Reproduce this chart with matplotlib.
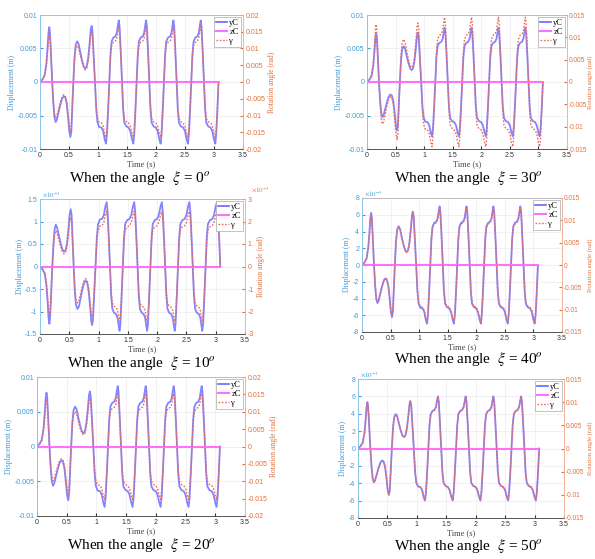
import numpy as np
import matplotlib
matplotlib.use("Agg")
import matplotlib.pyplot as plt
from matplotlib.ticker import FuncFormatter, MultipleLocator
from matplotlib.lines import Line2D

plt.rcParams["font.family"] = ["Liberation Sans", "DejaVu Sans"]
plt.rcParams["mathtext.fontset"] = "stix"

# Zeitpunkte (s) und normierte Kurvenform (stationaerer Spitzenwert = 1)
t_key = [0.000, 0.040, 0.080, 0.110, 0.130, 0.145, 0.160, 0.172, 0.185, 0.200,
         0.210, 0.230, 0.250, 0.270, 0.290, 0.320, 0.350, 0.380, 0.410, 0.435,
         0.460, 0.485, 0.505, 0.525, 0.540, 0.555, 0.575, 0.595, 0.615, 0.640,
         0.665, 0.695, 0.725, 0.755, 0.780, 0.805, 0.830, 0.855, 0.875, 0.890,
         0.905, 0.925, 0.948, 0.970, 0.990, 1.020, 1.060, 1.090, 1.115, 1.138,
         1.155, 1.175, 1.195, 1.215, 1.235, 1.265, 1.300, 1.325, 1.345, 1.358,
         1.372, 1.392, 1.414, 1.434, 1.454, 1.488, 1.528, 1.558, 1.586, 1.609,
         1.626, 1.646, 1.666, 1.686, 1.706, 1.736, 1.771, 1.796, 1.816, 1.829,
         1.843, 1.863, 1.885, 1.905, 1.925, 1.959, 1.999, 2.029, 2.057, 2.080,
         2.097, 2.117, 2.137, 2.157, 2.177, 2.207, 2.242, 2.267, 2.287, 2.300,
         2.314, 2.334, 2.356, 2.376, 2.396, 2.430, 2.470, 2.500, 2.528, 2.551,
         2.568, 2.588, 2.608, 2.628, 2.648, 2.678, 2.713, 2.738, 2.758, 2.771,
         2.785, 2.805, 2.827, 2.847, 2.867, 2.901, 2.941, 2.971, 2.999, 3.022,
         3.039, 3.059, 3.078]
shape = [0.00, 0.04, 0.11, 0.30, 0.55, 0.79, 0.89, 0.80, 0.55, 0.20,
         0.00, -0.35, -0.58, -0.65, -0.61, -0.49, -0.37, -0.27, -0.23, -0.25,
         -0.35, -0.58, -0.80, -0.89, -0.80, -0.45, 0.00, 0.40, 0.60, 0.66,
         0.62, 0.48, 0.35, 0.25, 0.22, 0.25, 0.38, 0.62, 0.85, 0.91,
         0.82, 0.45, 0.00, -0.45, -0.65, -0.73, -0.74, -0.80, -0.93, -1.00,
         -0.84, -0.45, 0.00, 0.45, 0.66, 0.72, 0.74, 0.80, 0.93, 1.00,
         0.90, 0.50, 0.00, -0.45, -0.66, -0.72, -0.74, -0.80, -0.93, -1.00,
         -0.84, -0.45, 0.00, 0.45, 0.66, 0.72, 0.74, 0.80, 0.93, 1.00,
         0.90, 0.50, 0.00, -0.45, -0.66, -0.72, -0.74, -0.80, -0.93, -1.00,
         -0.84, -0.45, 0.00, 0.45, 0.66, 0.72, 0.74, 0.80, 0.93, 1.00,
         0.90, 0.50, 0.00, -0.45, -0.66, -0.72, -0.74, -0.80, -0.93, -1.00,
         -0.84, -0.45, 0.00, 0.45, 0.66, 0.72, 0.74, 0.80, 0.93, 1.00,
         0.90, 0.50, 0.00, -0.45, -0.66, -0.72, -0.74, -0.80, -0.93, -1.00,
         -0.84, -0.45, 0.00]

# pro Teilbild: Winkel, Spitzenwerte yC (m), zC (m), gamma (rad)
angles = [0, 30, 10, 40, 20, 50]
yc_peak = [0.0092, 0.0081, -1.43e-3, 7.0e-3, 0.0087, 6.0e-3]
zc_value = [0.0, 0.0, 0.0, 0.0, 0.0, 0.0]
gamma_peak = [0.0165, 0.0145, -2.45e-3, 0.0128, 0.0152, 0.0112]

# Achsenbereiche
disp_lim = [0.01, 0.01, 1.5e-3, 8e-3, 0.01, 8e-3]
disp_step = [0.005, 0.005, 0.5e-3, 2e-3, 0.005, 2e-3]
disp_exp = [False, False, True, True, False, True]
rot_lim = [0.02, 0.015, 3e-3, 0.015, 0.02, 0.015]
rot_step = [0.005, 0.005, 1e-3, 0.005, 0.005, 0.005]
rot_exp = [False, False, True, False, False, False]

# Lage der Achsen in Pixeln (links, oben, rechts, unten) und Bildunterschriften
W, H = 595, 559
boxes = [(40, 15, 243, 149), (367, 15, 567, 149),
         (40, 199, 245, 334), (362, 198, 562, 332),
         (37, 377, 245, 516), (358, 379, 564, 518)]
captions_xy = [(140, 178), (468, 178), (141, 363), (468, 359), (141, 545), (468, 546)]

BLUE_TXT = "#3f9ad8"
ORANGE_TXT = "#e0703a"
C_YC = "#6666ff"
C_ZC = "#ff70ff"
C_GAM = "#f06a55"
SERIF = ["Liberation Serif", "DejaVu Serif"]

fig = plt.figure(figsize=(W / 100, H / 100), dpi=100)

t = np.array(t_key)
s = np.array(shape)

for i in range(6):
    l, tp, r, b = boxes[i]
    ax = fig.add_axes([l / W, 1 - b / H, (r - l) / W, (b - tp) / H])
    ax2 = ax.twinx()
    at_edge = r > 560  # rechte Spalte mit knappem Rand

    ax.plot(t, yc_peak[i] * s, color=C_YC, lw=1.3, alpha=0.8)
    ax.plot(t, np.full(len(t), zc_value[i]), color=C_ZC, lw=1.5)
    ax2.plot(t, gamma_peak[i] * s, color=C_GAM, lw=1.0, ls=(0, (1.2, 1.2)))

    ax.set_xlim(0, 3.5)
    ax.set_ylim(-disp_lim[i], disp_lim[i])
    ax2.set_ylim(-rot_lim[i], rot_lim[i])
    ax.xaxis.set_major_locator(MultipleLocator(0.5))
    ax.yaxis.set_major_locator(MultipleLocator(disp_step[i]))
    ax2.yaxis.set_major_locator(MultipleLocator(rot_step[i]))
    ax.xaxis.set_major_formatter(FuncFormatter(lambda v, p: f"{round(v, 6):g}"))
    if disp_exp[i]:
        ax.yaxis.set_major_formatter(FuncFormatter(lambda v, p: f"{round(v * 1e3, 6):g}"))
        ax.text(0.01, 1.0, r"$\times10^{-3}$", transform=ax.transAxes, fontsize=5,
                color=BLUE_TXT, ha="left", va="bottom")
    else:
        ax.yaxis.set_major_formatter(FuncFormatter(lambda v, p: f"{round(v, 6):g}"))
    if rot_exp[i]:
        ax2.yaxis.set_major_formatter(FuncFormatter(lambda v, p: f"{round(v * 1e3, 6):g}"))
        ax2.text(1.03, 1.035, r"$\times10^{-3}$", transform=ax2.transAxes, fontsize=5,
                 color=ORANGE_TXT, ha="left", va="bottom")
    else:
        ax2.yaxis.set_major_formatter(FuncFormatter(lambda v, p: f"{round(v, 6):g}"))

    ax.grid(True, color="#ececec", lw=0.5)
    ax.tick_params(axis="x", labelsize=5, colors="#333333", direction="in", length=2, pad=2)
    ax.tick_params(axis="y", labelsize=5, colors=BLUE_TXT, direction="in", length=2, pad=2)
    ax2.tick_params(axis="y", labelsize=4.7 if at_edge else 5, colors=ORANGE_TXT,
                    direction="in", length=2, pad=1 if at_edge else 2)

    for a in (ax, ax2):
        a.spines["top"].set_color("#bdbdbd")
        a.spines["bottom"].set_color("#555555")
        a.spines["left"].set_color("#8cc4ea")
        a.spines["right"].set_color("#f2b49a")
        for sp in a.spines.values():
            sp.set_linewidth(0.6)

    ax.set_xlabel("Time (s)", fontsize=6, family=SERIF, color="#444444", labelpad=1)
    ax.set_ylabel("Displacement (m)", fontsize=5.5, family=SERIF, color=BLUE_TXT, labelpad=1)
    ax2.set_ylabel("Rotation angle (rad)", fontsize=4.8 if at_edge else 5.5, family=SERIF,
                   color=ORANGE_TXT, labelpad=2, rotation=90)
    if at_edge:
        # am Bildrand: Beschriftung knapp neben die Zahlen setzen
        ax2.yaxis.set_label_coords(1 + (587.5 - r) / (r - l), 0.5)

    handles = [Line2D([], [], color=C_YC, lw=1.2),
               Line2D([], [], color=C_ZC, lw=1.5),
               Line2D([], [], color=C_GAM, lw=1.0, ls=(0, (1.2, 1.2)))]
    leg = ax2.legend(handles, ["yC", "zC", "\u03b3"], loc="upper right",
                     prop={"family": SERIF, "size": 6}, frameon=True, fancybox=False,
                     edgecolor="#aaaaaa", framealpha=1, borderaxespad=0.2,
                     handlelength=1.3, handletextpad=0.3, borderpad=0.25, labelspacing=0.15)
    leg.get_frame().set_linewidth(0.5)

    cx, cy = captions_xy[i]
    fig.text(cx / W, 1 - cy / H, rf"When the angle  $\xi$ = {angles[i]}$^{{o}}$",
             family=SERIF, fontsize=11, ha="center", va="center")

fig.savefig("out.png", dpi=100)
